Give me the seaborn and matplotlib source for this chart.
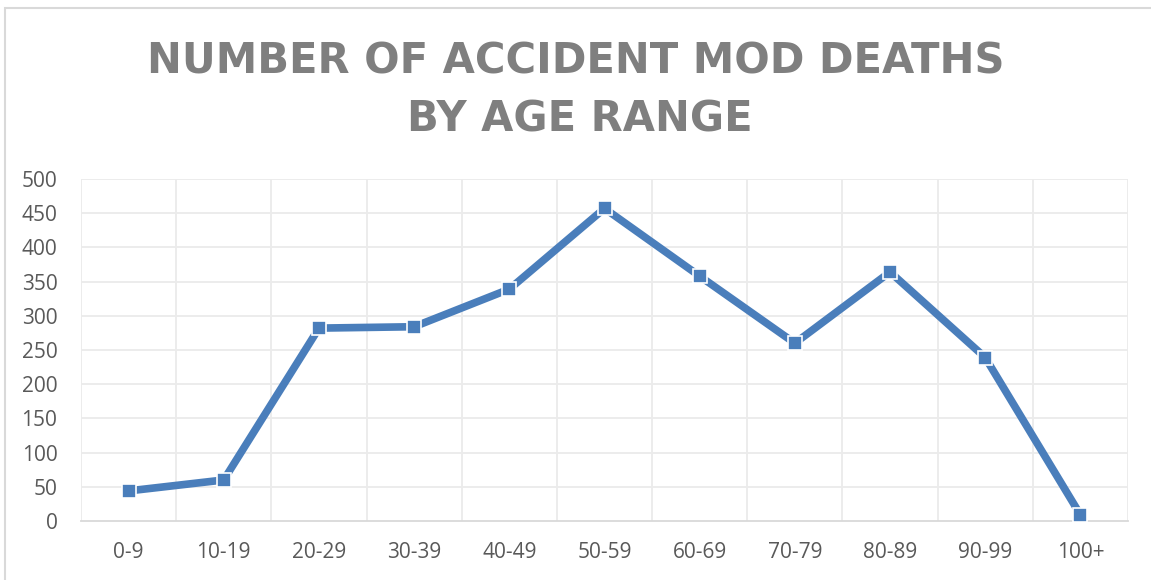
import pandas as pd
import matplotlib
matplotlib.use("Agg")
import matplotlib.pyplot as plt
import seaborn as sns
from matplotlib.patches import Rectangle

age_ranges = ['0-9', '10-19', '20-29', '30-39', '40-49', '50-59',
              '60-69', '70-79', '80-89', '90-99', '100+']
deaths = [44, 60, 282, 284, 339, 457, 358, 260, 364, 239, 9]

sns.set_theme(style='white')
plt.rcParams['font.family'] = ['Open Sans', 'DejaVu Sans']

df = pd.DataFrame({'age': age_ranges, 'deaths': deaths})

fig = plt.figure(figsize=(11.51, 5.80), dpi=100)
ax = fig.add_axes([81 / 1151, 1 - 521 / 580, (1128 - 81) / 1151, (521 - 179) / 580])

line_col = '#4a7ebb'
grid_col = '#ebebeb'

sns.lineplot(data=df, x='age', y='deaths', ax=ax, color=line_col, linewidth=5.5,
             marker='s', markersize=10, markerfacecolor=line_col,
             markeredgecolor='white', markeredgewidth=1.2, sort=False, zorder=3)

ax.set_xlim(-0.5, len(age_ranges) - 0.5)
ax.set_ylim(0, 500)
ax.set_yticks(range(0, 501, 50))
ax.set_xlabel('')
ax.set_ylabel('')

# excel-style gridlines
for yv in range(50, 501, 50):
    ax.axhline(yv, color=grid_col, lw=1.3, zorder=0)
for xv in range(len(age_ranges) + 1):
    ax.axvline(xv - 0.5, color=grid_col, lw=1.3, zorder=0)

for s in ['top', 'right', 'left']:
    ax.spines[s].set_visible(False)
ax.spines['bottom'].set_color('#d9d9d9')
ax.spines['bottom'].set_linewidth(1.3)

ax.tick_params(axis='y', length=0, pad=17, labelsize=15, labelcolor='#595959')
ax.tick_params(axis='x', length=0, pad=15, labelsize=15, labelcolor='#595959')

title_kw = dict(ha='center', va='baseline', fontsize=30, fontweight='bold',
                color='#7f7f7f', family='DejaVu Sans')
fig.text(576 / 1151, 1 - 73 / 580, 'NUMBER OF ACCIDENT MOD DEATHS', **title_kw)
fig.text(580 / 1151, 1 - 132 / 580, 'BY AGE RANGE', **title_kw)

# chart border
fig.patches.append(Rectangle((4.5 / 1151, -0.1), 1.2, 1.1 - 7.5 / 580,
                             transform=fig.transFigure, fill=False,
                             edgecolor='#d9d9d9', lw=1.5))

fig.savefig('out.png', dpi=100)
